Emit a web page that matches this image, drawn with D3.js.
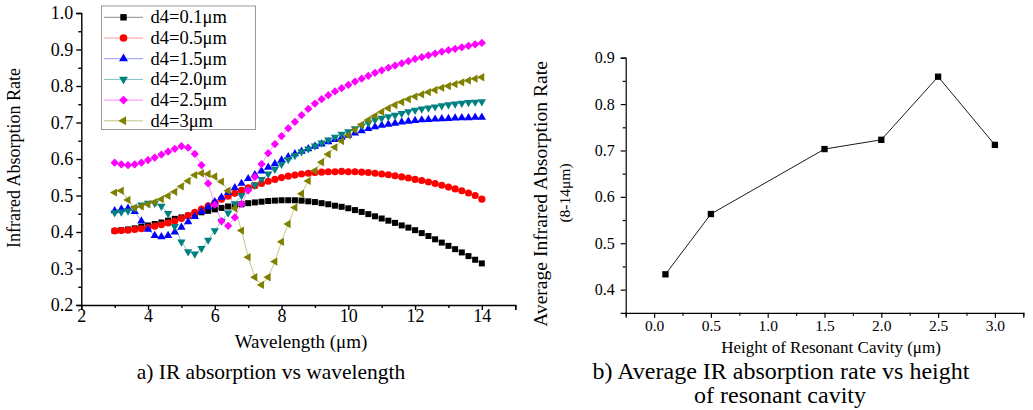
<!DOCTYPE html>
<html>
<head>
<meta charset="utf-8">
<script src="https://cdn.jsdelivr.net/npm/d3@7/dist/d3.min.js"></script>
<style>
  html, body { margin: 0; padding: 0; background: #fff; }
  svg { display: block; font-family: "Liberation Serif", "Times New Roman", serif; }
</style>
</head>
<body>
<svg id="chart" width="1033" height="410"></svg>
<script>
// ---- Panel a: absorption spectra for different cavity heights ----
const wavelengths = d3.range(56).map(i => +(3 + i * 0.2).toFixed(1));

const seriesNames = ["d4=0.1\u03bcm", "d4=0.5\u03bcm", "d4=1.5\u03bcm", "d4=2.0\u03bcm", "d4=2.5\u03bcm", "d4=3\u03bcm"];

const d4_01 = [0.403,0.405,0.407,0.410,0.414,0.418,0.422,0.426,0.431,0.436,0.440,0.445,0.449,0.454,0.458,0.462,0.466,0.470,0.473,0.476,0.479,0.481,0.483,0.485,0.486,0.487,0.487,0.487,0.486,0.484,0.482,0.479,0.476,0.472,0.469,0.465,0.460,0.455,0.449,0.443,0.437,0.431,0.425,0.418,0.412,0.405,0.397,0.389,0.380,0.371,0.362,0.353,0.344,0.334,0.324,0.314];
const d4_05 = [0.403,0.404,0.405,0.407,0.409,0.412,0.416,0.420,0.425,0.430,0.437,0.445,0.454,0.463,0.472,0.480,0.490,0.498,0.506,0.514,0.521,0.527,0.533,0.539,0.544,0.549,0.553,0.556,0.559,0.561,0.563,0.564,0.565,0.565,0.566,0.565,0.565,0.564,0.563,0.561,0.559,0.557,0.554,0.551,0.548,0.544,0.541,0.537,0.533,0.528,0.523,0.518,0.513,0.507,0.500,0.490];
const d4_15 = [0.458,0.463,0.465,0.456,0.430,0.407,0.390,0.387,0.390,0.400,0.413,0.428,0.442,0.456,0.469,0.483,0.495,0.508,0.521,0.533,0.546,0.557,0.567,0.577,0.587,0.597,0.606,0.614,0.621,0.628,0.635,0.641,0.647,0.653,0.659,0.665,0.671,0.677,0.683,0.688,0.692,0.695,0.698,0.701,0.703,0.705,0.707,0.708,0.709,0.710,0.711,0.712,0.713,0.713,0.714,0.714];
const d4_20 = [0.453,0.455,0.458,0.465,0.474,0.479,0.479,0.471,0.451,0.415,0.373,0.346,0.340,0.355,0.378,0.404,0.430,0.452,0.478,0.500,0.515,0.529,0.544,0.559,0.572,0.586,0.599,0.610,0.620,0.628,0.636,0.644,0.652,0.660,0.668,0.675,0.683,0.691,0.699,0.707,0.712,0.716,0.720,0.725,0.730,0.734,0.737,0.740,0.743,0.746,0.749,0.751,0.753,0.755,0.756,0.757];
const d4_25 = [0.590,0.585,0.583,0.585,0.590,0.597,0.604,0.612,0.620,0.628,0.635,0.631,0.614,0.583,0.533,0.475,0.430,0.417,0.440,0.477,0.514,0.551,0.586,0.616,0.641,0.663,0.684,0.702,0.720,0.737,0.752,0.764,0.775,0.785,0.794,0.803,0.812,0.820,0.828,0.836,0.843,0.850,0.856,0.862,0.868,0.874,0.879,0.884,0.889,0.894,0.898,0.902,0.906,0.910,0.914,0.918];
const d4_30 = [0.508,0.513,0.488,0.467,0.470,0.476,0.482,0.490,0.499,0.510,0.525,0.540,0.556,0.561,0.559,0.552,0.538,0.513,0.465,0.404,0.331,0.276,0.255,0.276,0.319,0.373,0.422,0.467,0.505,0.540,0.568,0.591,0.613,0.632,0.649,0.665,0.680,0.694,0.707,0.718,0.729,0.739,0.748,0.756,0.764,0.771,0.777,0.783,0.789,0.795,0.800,0.805,0.810,0.815,0.820,0.824];

const seriesValues = [d4_01, d4_05, d4_15, d4_20, d4_25, d4_30];
const seriesColors = ["#000000", "#ff0000", "#0000ff", "#008080", "#ff00ff", "#808000"];
const seriesLineColors = ["#8a8a8a", "#ff9a9a", "#9a9aff", "#80bfbf", "#ff8aff", "#c0c080"];

const xTicksA = [2, 4, 6, 8, 10, 12, 14];
const yTicksA = [0.2, 0.3, 0.4, 0.5, 0.6, 0.7, 0.8, 0.9, 1.0];

// ---- Panel b: average absorption (8-14 um) vs cavity height ----
const cavityHeights = [0.1, 0.5, 1.5, 2.0, 2.5, 3.0];
const avgAbsorption = [0.433, 0.563, 0.703, 0.723, 0.859, 0.712];
const xTicksB = [0.0, 0.5, 1.0, 1.5, 2.0, 2.5, 3.0];
const yTicksB = [0.4, 0.5, 0.6, 0.7, 0.8, 0.9];

const SERIF = "Liberation Serif, Times New Roman, serif";
const svg = d3.select("#chart");

// marker shapes, one per series
function markerPath(idx, scale) {
  const s = scale || 1;
  switch (idx) {
    case 0: return { d: d3.symbol(d3.symbolSquare, 36 * s)(), rot: 0 };
    case 1: return { d: d3.symbol(d3.symbolCircle, 40 * s)(), rot: 0 };
    case 2: return { d: d3.symbol(d3.symbolTriangle, 30 * s)(), rot: 0 };
    case 3: return { d: d3.symbol(d3.symbolTriangle, 30 * s)(), rot: 180 };
    case 4: return { d: d3.symbol(d3.symbolSquare, 34 * s)(), rot: 45 };
    default: return { d: d3.symbol(d3.symbolTriangle, 30 * s)(), rot: -90 };
  }
}

function styleTickText(sel, size) {
  sel.selectAll("text")
    .attr("font-size", size)
    .attr("font-family", SERIF)
    .attr("fill", "#000");
}

// ================= Panel a =================
const xA = d3.scaleLinear().domain([2, 15]).range([81.3, 515.2]);
const yA = d3.scaleLinear().domain([0.2, 1.0]).range([305, 13]);

const gA = svg.append("g");

// x axis with minor ticks
gA.append("g")
  .attr("transform", `translate(0,${yA(0.2)})`)
  .call(d3.axisBottom(xA).tickValues(d3.range(3, 16, 2)).tickSize(3).tickFormat(""))
  .call(g => g.select(".domain").remove());
gA.append("g")
  .attr("transform", `translate(0,${yA(0.2)})`)
  .call(d3.axisBottom(xA).tickValues(xTicksA.concat([15])).tickSizeOuter(0).tickSize(5).tickPadding(0)
    .tickFormat(d => d === 15 ? "" : d3.format("d")(d)))
  .call(g => styleTickText(g, 18))
  .call(g => g.selectAll("text").attr("y", 4));

// y axis with minor ticks
gA.append("g")
  .attr("transform", `translate(${xA(2)},0)`)
  .call(d3.axisLeft(yA).tickValues(d3.range(0.25, 1.0, 0.1)).tickSize(3).tickFormat(""))
  .call(g => g.select(".domain").remove());
gA.append("g")
  .attr("transform", `translate(${xA(2)},0)`)
  .call(d3.axisLeft(yA).tickValues(yTicksA).tickSizeOuter(0).tickSize(5).tickPadding(3).tickFormat(d3.format(".1f")))
  .call(g => styleTickText(g, 18));

gA.selectAll(".domain, .tick line").attr("stroke", "#000").attr("stroke-width", 1.4);

// connecting lines then markers
const lineA = d3.line().x((d, i) => xA(wavelengths[i])).y(d => yA(d));
seriesValues.forEach((vals, si) => {
  gA.append("path")
    .attr("d", lineA(vals))
    .attr("fill", "none")
    .attr("stroke", seriesLineColors[si])
    .attr("stroke-width", 0.9);
});
seriesValues.forEach((vals, si) => {
  const m = markerPath(si);
  gA.append("g").selectAll("path")
    .data(vals)
    .join("path")
    .attr("d", m.d)
    .attr("transform", (d, i) => `translate(${xA(wavelengths[i])},${yA(d)}) rotate(${m.rot})`)
    .attr("fill", seriesColors[si]);
});

// legend
const legend = gA.append("g");
legend.append("rect")
  .attr("x", 101.5).attr("y", 6).attr("width", 154).attr("height", 123.5)
  .attr("fill", "#fff").attr("stroke", "#9a9a9a").attr("stroke-width", 1);
seriesNames.forEach((name, si) => {
  const cy = 17.3 + si * 20.7;
  legend.append("line")
    .attr("x1", 104).attr("x2", 143).attr("y1", cy).attr("y2", cy)
    .attr("stroke", seriesLineColors[si]).attr("stroke-width", 1);
  const m = markerPath(si, 1.15);
  legend.append("path")
    .attr("d", m.d)
    .attr("transform", `translate(123.5,${cy}) rotate(${m.rot})`)
    .attr("fill", seriesColors[si]);
  legend.append("text")
    .attr("x", 150.5).attr("y", cy + 6)
    .attr("font-size", 18.5)
    .text(name);
});

// axis titles
gA.append("text")
  .attr("transform", `translate(19.5,${yA(0.6) - 1}) rotate(-90)`)
  .attr("text-anchor", "middle")
  .attr("font-size", 18)
  .text("Infrared Absorption Rate");
gA.append("text")
  .attr("x", 301).attr("y", 348)
  .attr("text-anchor", "middle")
  .attr("font-size", 19)
  .text("Wavelength (\u03bcm)");
gA.append("text")
  .attr("x", 271).attr("y", 379)
  .attr("text-anchor", "middle")
  .attr("font-size", 21.5)
  .text("a) IR absorption vs wavelength");

// ================= Panel b =================
const xB = d3.scaleLinear().domain([-0.25, 3.25]).range([625.7, 1023.3]);
const yB = d3.scaleLinear().domain([0.35, 0.9]).range([312.8, 57.7]);

const gB = svg.append("g");

gB.append("g")
  .attr("transform", `translate(0,${yB(0.35)})`)
  .call(d3.axisBottom(xB).tickValues(d3.range(-0.25, 3.3, 0.5)).tickSize(3).tickFormat(""))
  .call(g => g.select(".domain").remove());
gB.append("g")
  .attr("transform", `translate(0,${yB(0.35)})`)
  .call(d3.axisBottom(xB).tickValues(xTicksB).tickSizeOuter(0).tickSize(5).tickPadding(2).tickFormat(d3.format(".1f")))
  .call(g => styleTickText(g, 15.5));

gB.append("g")
  .attr("transform", `translate(${xB(-0.25)},0)`)
  .call(d3.axisLeft(yB).tickValues(d3.range(0.45, 0.9, 0.1)).tickSize(3).tickFormat(""))
  .call(g => g.select(".domain").remove());
gB.append("g")
  .attr("transform", `translate(${xB(-0.25)},0)`)
  .call(d3.axisLeft(yB).tickValues(yTicksB).tickSizeOuter(0).tickSize(5).tickPadding(6).tickFormat(d3.format(".1f")))
  .call(g => styleTickText(g, 16));

// the y axis line runs from the 0.9 tick down to the x axis
gB.selectAll(".domain, .tick line").attr("stroke", "#000").attr("stroke-width", 1.2);

const lineB = d3.line().x((d, i) => xB(cavityHeights[i])).y(d => yB(d));
gB.append("path")
  .attr("d", lineB(avgAbsorption))
  .attr("fill", "none")
  .attr("stroke", "#000")
  .attr("stroke-width", 0.9);
gB.append("g").selectAll("path")
  .data(avgAbsorption)
  .join("path")
  .attr("d", d3.symbol(d3.symbolSquare, 40)())
  .attr("transform", (d, i) => `translate(${xB(cavityHeights[i])},${yB(d)})`)
  .attr("fill", "#000");

gB.append("text")
  .attr("transform", `translate(547,194) rotate(-90)`)
  .attr("text-anchor", "middle")
  .attr("font-size", 19.6)
  .text("Average Infrared Absorption Rate");
gB.append("text")
  .attr("transform", `translate(569.5,193) rotate(-90)`)
  .attr("text-anchor", "middle")
  .attr("font-size", 15.5)
  .text("(8-14\u03bcm)");
gB.append("text")
  .attr("x", 831).attr("y", 352.5)
  .attr("text-anchor", "middle")
  .attr("font-size", 17)
  .text("Height of Resonant Cavity (\u03bcm)");
gB.append("text")
  .attr("x", 781).attr("y", 379)
  .attr("text-anchor", "middle")
  .attr("font-size", 24)
  .text("b) Average IR absorption rate vs height");
gB.append("text")
  .attr("x", 780).attr("y", 403)
  .attr("text-anchor", "middle")
  .attr("font-size", 24)
  .text("of resonant cavity");
</script>
</body>
</html>
